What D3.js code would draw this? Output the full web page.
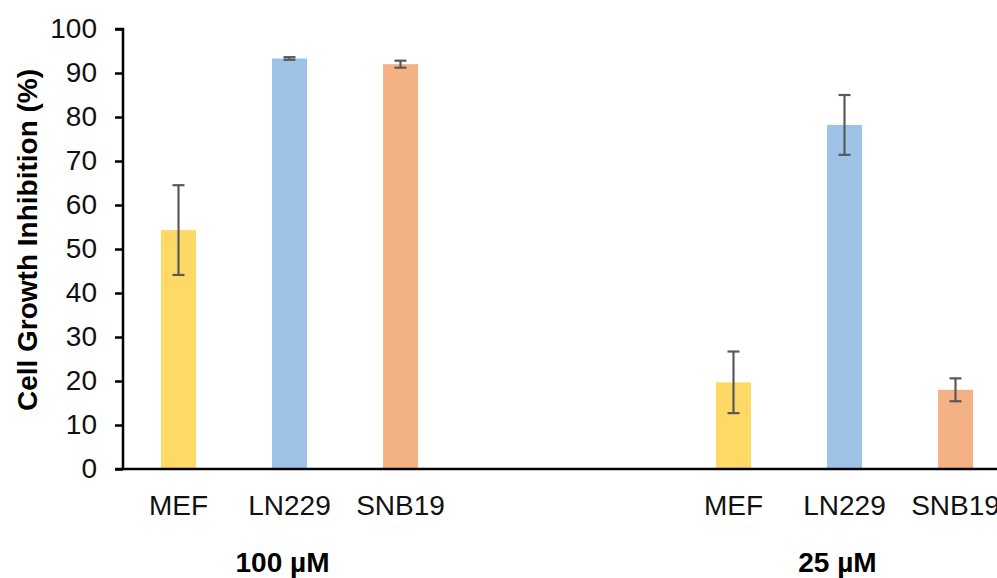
<!DOCTYPE html>
<html>
<head>
<meta charset="utf-8">
<script src="https://cdn.jsdelivr.net/npm/d3@7"></script>
<style>
  html, body { margin: 0; padding: 0; background: #fff; }
  svg { display: block; font-family: "Liberation Sans", Arial, sans-serif; }
</style>
</head>
<body>
<svg id="chart" width="997" height="578"></svg>
<script>
// ---- data ----
const groups = ["100 µM", "25 µM"];
const cellLines = ["MEF", "LN229", "SNB19"];
const values100 = [54.3, 93.3, 92.0];
const errors100 = [10.2, 0.3, 0.8];
const values25 = [19.7, 78.2, 18.0];
const errors25 = [7.0, 6.8, 2.6];
const colors = ["#FFD966", "#9DC3E6", "#F4B183"];
const yTicks = [0, 10, 20, 30, 40, 50, 60, 70, 80, 90, 100];
// slots along the category axis (two blank slots between groups)
const slots = ["100 µM|MEF", "100 µM|LN229", "100 µM|SNB19", "gap1", "gap2",
               "25 µM|MEF", "25 µM|LN229", "25 µM|SNB19"];

const bars = [];
groups.forEach((g, gi) => {
  const vals = gi === 0 ? values100 : values25;
  const errs = gi === 0 ? errors100 : errors25;
  cellLines.forEach((c, ci) => {
    bars.push({ group: g, cell: c, key: g + "|" + c, value: vals[ci], err: errs[ci], color: colors[ci] });
  });
});

const svg = d3.select("#chart");
const x0 = 123, x1 = 1011, yTop = 29, yBot = 469;
const FS = 28;

const x = d3.scaleBand().domain(slots).range([x0, x1]).paddingInner(0.685).paddingOuter(0.3425);
const y = d3.scaleLinear().domain([0, 100]).range([yBot, yTop]);

// bars
svg.append("g").selectAll("rect").data(bars).join("rect")
  .attr("x", d => x(d.key))
  .attr("width", x.bandwidth())
  .attr("y", d => y(d.value))
  .attr("height", d => y(0) - y(d.value))
  .attr("fill", d => d.color);

// error bars
const eb = svg.append("g").attr("stroke", "#595959").attr("stroke-width", 2.2).attr("fill", "none");
bars.forEach(d => {
  const cx = x(d.key) + x.bandwidth() / 2;
  const capW = 6;
  eb.append("line").attr("x1", cx).attr("x2", cx).attr("y1", y(d.value + d.err)).attr("y2", y(d.value - d.err));
  eb.append("line").attr("x1", cx - capW).attr("x2", cx + capW).attr("y1", y(d.value + d.err)).attr("y2", y(d.value + d.err));
  eb.append("line").attr("x1", cx - capW).attr("x2", cx + capW).attr("y1", y(d.value - d.err)).attr("y2", y(d.value - d.err));
});

// y axis
const yAxis = d3.axisLeft(y).tickValues(yTicks).tickSize(8).tickPadding(18);
const gy = svg.append("g").attr("transform", `translate(${x0},0)`).call(yAxis);
gy.select(".domain").attr("stroke", "#000").attr("stroke-width", 2.5).attr("d", `M-8,${yTop}H0V${yBot}`);
gy.selectAll(".tick line").attr("stroke", "#000").attr("stroke-width", 2.5);
gy.selectAll(".tick text").attr("font-size", FS).attr("fill", "#111")
  .attr("font-family", "'Liberation Sans', Arial, sans-serif");

// x axis baseline
svg.append("line").attr("x1", x0 - 8).attr("x2", 997).attr("y1", yBot).attr("y2", yBot)
  .attr("stroke", "#000").attr("stroke-width", 2.5);

// category labels
svg.append("g").selectAll("text").data(bars).join("text")
  .attr("x", d => x(d.key) + x.bandwidth() / 2)
  .attr("y", 515)
  .attr("text-anchor", "middle")
  .attr("font-size", FS)
  .attr("fill", "#111")
  .text(d => d.cell);

// group labels
svg.append("g").selectAll("text").data(groups).join("text")
  .attr("x", g => x(g + "|LN229") + x.bandwidth() / 2 - 7)
  .attr("y", 572)
  .attr("text-anchor", "middle")
  .attr("font-size", FS)
  .attr("font-weight", "bold")
  .attr("fill", "#000")
  .text(g => g);

// y title
svg.append("text")
  .attr("transform", `translate(37,240) rotate(-90)`)
  .attr("text-anchor", "middle")
  .attr("font-size", FS)
  .attr("font-weight", "bold")
  .attr("fill", "#000")
  .text("Cell Growth Inhibition (%)");
</script>
</body>
</html>
